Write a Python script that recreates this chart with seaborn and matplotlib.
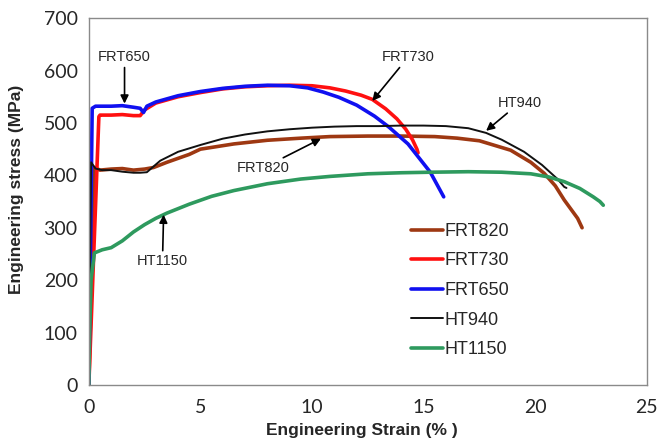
import pandas as pd
import seaborn as sns
import matplotlib.pyplot as plt

# strain (%) / stress (MPa)
frt820_strain = [0, 0.25, 0.5, 1.0, 1.5, 2.0, 2.5, 2.9, 3.5, 4.5, 5.0, 6.5, 8.0, 9.5, 10.8,
                 12.5, 14.0, 15.5, 16.5, 17.5, 18.9, 19.8, 20.4, 20.9, 21.3, 21.9, 22.1]
frt820_stress = [0, 415, 410, 412, 413, 410, 412, 415, 425, 440, 450, 460, 467, 471, 474,
                 475, 475, 474, 471, 466, 448, 425, 404, 380, 353, 318, 300]

frt730_strain = [0, 0.45, 0.5, 1.0, 1.5, 2.0, 2.3, 2.5, 3.0, 4.0, 5.0, 6.0, 7.0, 8.0, 9.0,
                 10.0, 10.8, 11.5, 12.2, 12.7, 13.3, 13.8, 14.2, 14.5, 14.7, 14.75]
frt730_stress = [0, 512, 515, 515, 516, 514, 514, 525, 538, 550, 558, 565, 569, 571, 572,
                 571, 567, 561, 553, 545, 527, 508, 488, 468, 450, 443]

frt650_strain = [0, 0.15, 0.3, 0.5, 1.0, 1.5, 2.0, 2.3, 2.45, 2.6, 3.0, 4.0, 5.0, 6.0, 7.0,
                 8.0, 9.0, 9.8, 10.5, 11.2, 12.0, 12.8, 13.45, 14.3, 15.3, 15.9]
frt650_stress = [0, 528, 532, 532, 532, 533, 530, 528, 520, 532, 540, 552, 560, 566, 570,
                 572, 571, 567, 559, 549, 534, 513, 492, 460, 406, 359]

ht940_strain = [0, 0.1, 0.3, 0.6, 1.0, 1.5, 2.0, 2.3, 2.6, 3.2, 4.0, 5.0, 6.0, 7.0, 8.0,
                9.0, 10.0, 11.0, 12.0, 13.0, 14.0, 15.0, 16.0, 17.0, 17.8, 18.5, 19.5,
                20.3, 21.0, 21.3, 21.4]
ht940_stress = [0, 425, 413, 410, 410, 407, 405, 405, 406, 428, 445, 458, 470, 478, 484,
                488, 491, 493, 494, 494, 495, 495, 494, 490, 481, 468, 445, 420, 393, 378, 376]

ht1150_strain = [0, 0.03, 0.1, 0.25, 0.6, 1.0, 1.5, 2.0, 2.5, 3.0, 3.5, 4.5, 5.5, 6.5, 8.0,
                 9.5, 10.8, 12.5, 14.0, 15.3, 17.0, 18.5, 19.8, 20.6, 21.3, 22.0, 22.6,
                 22.9, 23.05]
ht1150_stress = [0, 90, 200, 252, 258, 262, 275, 292, 306, 318, 328, 345, 360, 371, 384,
                 393, 398, 403, 405, 406, 407, 406, 403, 397, 388, 375, 359, 350, 343]

series = [
    ("FRT820", frt820_strain, frt820_stress, "#9E3812", 2.6),
    ("FRT730", frt730_strain, frt730_stress, "#FF1010", 2.6),
    ("FRT650", frt650_strain, frt650_stress, "#1010F0", 2.6),
    ("HT940", ht940_strain, ht940_stress, "#111111", 1.4),
    ("HT1150", ht1150_strain, ht1150_stress, "#2E9A5E", 2.6),
]

sns.set_style("white")
plt.rcParams["font.family"] = ["Liberation Sans", "DejaVu Sans"]

fig, ax = plt.subplots(figsize=(6.58, 4.43), dpi=100)
fig.subplots_adjust(left=0.135, right=0.983, bottom=0.131, top=0.959)

for name, x, y, c, lw in series:
    df = pd.DataFrame({"strain": x, "stress": y})
    sns.lineplot(data=df, x="strain", y="stress", ax=ax, color=c, lw=lw,
                 label=name, sort=False, estimator=None)

ax.set_xlim(0, 25)
ax.set_ylim(0, 700)
ax.set_xticks(range(0, 26, 5))
ax.set_yticks(range(0, 701, 100))
ax.tick_params(axis="x", length=0, pad=10)
ax.tick_params(axis="y", length=0, pad=8)
for lab in ax.get_xticklabels() + ax.get_yticklabels():
    lab.set_fontfamily("Lato")
    lab.set_fontsize(14)

ax.set_xlabel("Engineering Strain (% )", fontsize=12.5, fontweight="bold")
ax.set_ylabel("Engineering stress (MPa)", fontsize=12.5, fontweight="bold")
ax.xaxis.set_label_coords(0.489, -0.105)
ax.yaxis.set_label_coords(-0.117, 0.534)

for s in ax.spines.values():
    s.set_color("#8a8a8a")
    s.set_linewidth(1.0)

arrow = dict(arrowstyle="-|>", color="black", lw=1.2, mutation_scale=12, shrinkA=0, shrinkB=0)
ax.annotate("FRT650", xy=(1.6, 537), xytext=(1.6, 612), fontsize=10.5,
            ha="center", va="bottom", arrowprops=arrow)
ax.annotate("FRT730", xy=(12.7, 542), xytext=(14.3, 612), fontsize=10.5,
            ha="center", va="bottom", arrowprops=arrow)
ax.annotate("HT940", xy=(17.8, 485), xytext=(19.3, 525), fontsize=10.5,
            ha="center", va="bottom", arrowprops=arrow)
ax.annotate("FRT820", xy=(10.4, 470), xytext=(7.8, 414), fontsize=10.5,
            ha="center", va="center", arrowprops=arrow)
ax.annotate("HT1150", xy=(3.35, 325), xytext=(3.3, 250), fontsize=10.5,
            ha="center", va="top", arrowprops=arrow)

leg = ax.legend(loc="upper left", bbox_to_anchor=(0.578, 0.442), frameon=False,
                fontsize=13, handlelength=1.75, handletextpad=0.1,
                labelspacing=0.7, borderpad=0, borderaxespad=0)

plt.savefig("out.png", dpi=100)
